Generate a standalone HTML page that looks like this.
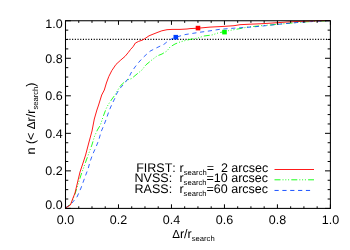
<!DOCTYPE html>
<html><head><meta charset="utf-8"><style>
html,body{margin:0;padding:0;background:#fff;}
body{width:350px;height:250px;overflow:hidden;}
svg{display:block;will-change:transform;}
text{font-family:"Liberation Sans",sans-serif;font-size:12.5px;fill:#000;text-rendering:geometricPrecision;font-kerning:none;}
.sub{font-size:7.65px;}
</style></head><body>
<svg width="350" height="250" viewBox="0 0 350 250">
<rect width="350" height="250" fill="#fff"/>
<line x1="66.7" y1="39.4" x2="330.4" y2="39.4" stroke="#000" stroke-width="1.3" stroke-dasharray="1.1 1.6"/>
<polyline points="65.5,208 71,204 75,194 81,175 85.3,163 88.2,155 91.9,145 94.6,136 97.4,130 100.4,125 103,117 106,109 108,105 112,99 115,95 119.6,87 122.2,84 124.4,82.2 127.5,79.9 131.5,78.6 137,74 142,70 145.8,65 151.2,60.5 157,56 162,54 167,51 170,47 175,44 180,42 185,40.6 190,39.4 198,38 204,36 212,35 218,33 225,31.4 232,30 240,28.6 248,27 260,25.8 281,24 303,22 324,21 330,20.5" fill="none" stroke="#00ff00" stroke-width="0.85" stroke-dasharray="6 2 1 1.8 1 1.8 1 2.2"/>
<polyline points="65.5,208 72,203 77,197 81,188 85,177 88,169 90.3,161 92.4,155 96,147 98.8,140 101,132 104,125 107,117 109,111 111.6,105 115,98 117,93 120.3,88 124.8,83 128.6,78 131,73 135,67 139,62 143,57.6 146,54.8 150,51.2 155,48.6 160,46.2 164,44.3 168,41 172,38.6 176,37.4 180,36 185,34.6 190,33.8 200,32.2 207,31.3 213.4,30.3 220,29.3 231,28.4 240,27.8 250,27.1 260,26.3 281,24 303,22 324,21 330,20.5" fill="none" stroke="#0040ff" stroke-width="0.8" stroke-dasharray="4.2 3.65"/>
<polyline points="65.5,208 70.4,205 73,198 75,193 80,172 83,163 85.6,155 89,142 92,131 94.3,119 96.9,110 98.6,105 101.7,95 104.3,90 106.4,83 108.8,76.5 111.8,70.6 116,64.4 120.8,60 125,56.4 128.2,52.6 130.6,49.4 133,46.8 135.4,43 138.6,41.4 142.6,40 145.8,38 149,35.8 153,34.2 157,32.6 161.8,30.8 167,29.7 172,29.4 180,29.4 187,29 190,28.6 198,28.2 210,27.1 222,26.5 234,25.7 240,24.7 250,24.2 260,23.8 270,23.2 280,22.5 290,21.8 310,21 330,20.5" fill="none" stroke="#ff0000" stroke-width="0.9"/>
<rect x="195.7" y="25.8" width="4.6" height="4.6" fill="#ff0000"/>
<rect x="173.5" y="34.9" width="4.6" height="4.6" fill="#0040ff"/>
<rect x="222.2" y="29.8" width="4.6" height="4.6" fill="#00ff00"/>
<rect x="65.5" y="20.75" width="264.9" height="187.65" fill="none" stroke="#000" stroke-width="1.05"/>
<path d="M65.50,208.4v-4.1M65.50,20.75v4.1M65.5,208.40h5.4M330.4,208.40h-5.4M78.75,208.4v-2.1M78.75,20.75v2.1M65.5,199.02h2.75M330.4,199.02h-2.75M91.99,208.4v-2.1M91.99,20.75v2.1M65.5,189.63h2.75M330.4,189.63h-2.75M105.23,208.4v-2.1M105.23,20.75v2.1M65.5,180.25h2.75M330.4,180.25h-2.75M118.48,208.4v-4.1M118.48,20.75v4.1M65.5,170.87h5.4M330.4,170.87h-5.4M131.72,208.4v-2.1M131.72,20.75v2.1M65.5,161.49h2.75M330.4,161.49h-2.75M144.97,208.4v-2.1M144.97,20.75v2.1M65.5,152.11h2.75M330.4,152.11h-2.75M158.21,208.4v-2.1M158.21,20.75v2.1M65.5,142.72h2.75M330.4,142.72h-2.75M171.46,208.4v-4.1M171.46,20.75v4.1M65.5,133.34h5.4M330.4,133.34h-5.4M184.70,208.4v-2.1M184.70,20.75v2.1M65.5,123.96h2.75M330.4,123.96h-2.75M197.95,208.4v-2.1M197.95,20.75v2.1M65.5,114.58h2.75M330.4,114.58h-2.75M211.19,208.4v-2.1M211.19,20.75v2.1M65.5,105.19h2.75M330.4,105.19h-2.75M224.44,208.4v-4.1M224.44,20.75v4.1M65.5,95.81h5.4M330.4,95.81h-5.4M237.69,208.4v-2.1M237.69,20.75v2.1M65.5,86.43h2.75M330.4,86.43h-2.75M250.93,208.4v-2.1M250.93,20.75v2.1M65.5,77.05h2.75M330.4,77.05h-2.75M264.17,208.4v-2.1M264.17,20.75v2.1M65.5,67.66h2.75M330.4,67.66h-2.75M277.42,208.4v-4.1M277.42,20.75v4.1M65.5,58.28h5.4M330.4,58.28h-5.4M290.66,208.4v-2.1M290.66,20.75v2.1M65.5,48.90h2.75M330.4,48.90h-2.75M303.91,208.4v-2.1M303.91,20.75v2.1M65.5,39.51h2.75M330.4,39.51h-2.75M317.15,208.4v-2.1M317.15,20.75v2.1M65.5,30.13h2.75M330.4,30.13h-2.75M330.40,208.4v-4.1M330.40,20.75v4.1M65.5,20.75h5.4M330.4,20.75h-5.4" stroke="#000" stroke-width="1" fill="none"/>
<text x="65.5" y="224" text-anchor="middle">0.0</text><text x="118.5" y="224" text-anchor="middle">0.2</text><text x="171.5" y="224" text-anchor="middle">0.4</text><text x="224.4" y="224" text-anchor="middle">0.6</text><text x="277.4" y="224" text-anchor="middle">0.8</text><text x="330.4" y="224" text-anchor="middle">1.0</text>
<text x="62.6" y="208.5" text-anchor="end">0.0</text><text x="62.6" y="175.1" text-anchor="end">0.2</text><text x="62.6" y="137.5" text-anchor="end">0.4</text><text x="62.6" y="100.0" text-anchor="end">0.6</text><text x="62.6" y="62.5" text-anchor="end">0.8</text><text x="62.6" y="27.7" text-anchor="end">1.0</text>
<text x="172.2" y="237.6"><tspan font-size="11.6">Δ</tspan>r/r<tspan class="sub" dy="3.3">search</tspan></text>
<text transform="translate(35.3,154.5) rotate(-90)">n (&lt; <tspan font-size="11.6">Δ</tspan>r/r<tspan class="sub" dy="2.5">search</tspan><tspan dy="-2.5">)</tspan></text>
<text x="136.2" y="171.6">FIRST:</text><text x="179.6" y="171.6" xml:space="preserve">r<tspan class="sub" dy="3.3">search</tspan><tspan dy="-3.3">=  2 arcsec</tspan></text>
<text x="134.6" y="182.0">NVSS:</text><text x="179.4" y="182.0" xml:space="preserve">r<tspan class="sub" dy="3.3">search</tspan><tspan dy="-3.3">=10 arcsec</tspan></text>
<text x="134.6" y="192.6">RASS:</text><text x="179.4" y="192.6" xml:space="preserve">r<tspan class="sub" dy="3.3">search</tspan><tspan dy="-3.3">=60 arcsec</tspan></text>
<line x1="274.5" y1="169.5" x2="314" y2="169.5" stroke="#ff0000" stroke-width="0.9"/>
<line x1="274.5" y1="179.8" x2="314" y2="179.8" stroke="#00ff00" stroke-width="0.9" stroke-dasharray="6 2 1 1.8 1 1.8 1 2.2"/>
<line x1="274.5" y1="190.45" x2="310.5" y2="190.45" stroke="#0040ff" stroke-width="0.9" stroke-dasharray="4.2 3.65"/>
</svg>
</body></html>
